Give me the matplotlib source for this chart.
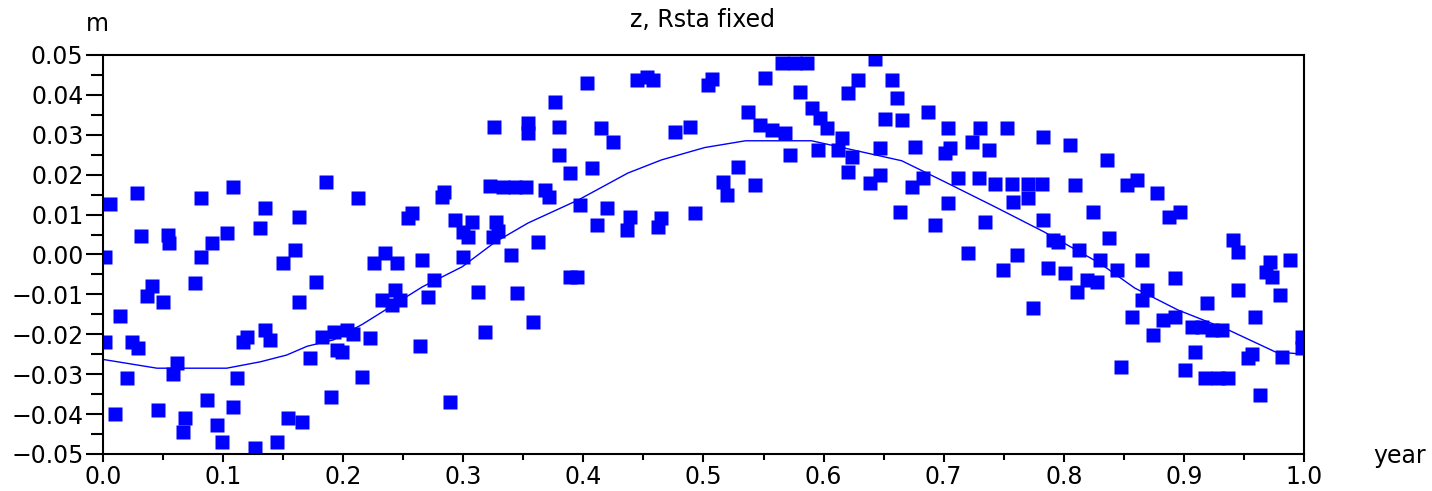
import numpy as np
import matplotlib
matplotlib.use("Agg")
import matplotlib.pyplot as plt
from matplotlib.ticker import MultipleLocator, FuncFormatter

# observed points (year fraction, metres)
obs_x = [0.006, 0.028, 0.032, 0.054, 0.055, 0.002, 0.014, 0.002, 0.024, 0.029,
         0.020, 0.010, 0.041, 0.037, 0.050, 0.046, 0.062, 0.058, 0.068, 0.067,
         0.077, 0.082, 0.082, 0.091, 0.103, 0.108, 0.135, 0.131, 0.087, 0.095,
         0.099, 0.112, 0.108, 0.120, 0.117, 0.135, 0.139, 0.127, 0.145, 0.150,
         0.160, 0.163, 0.163, 0.154, 0.166, 0.172, 0.186, 0.212, 0.254, 0.257,
         0.235, 0.226, 0.245, 0.266, 0.177, 0.232, 0.243, 0.247, 0.241, 0.182,
         0.192, 0.203, 0.208, 0.222, 0.195, 0.199, 0.264, 0.216, 0.190,
         0.326, 0.282, 0.284, 0.322, 0.333, 0.343, 0.352, 0.293, 0.307, 0.300,
         0.304, 0.327, 0.329, 0.325, 0.300, 0.276, 0.271, 0.312, 0.318, 0.289,
         0.403, 0.445, 0.453, 0.458, 0.504, 0.507, 0.376, 0.354, 0.354, 0.380,
         0.415, 0.425, 0.476, 0.489, 0.380, 0.389, 0.407, 0.368, 0.371, 0.397,
         0.420, 0.411, 0.439, 0.436, 0.465, 0.462, 0.493, 0.362, 0.340, 0.389,
         0.395, 0.345, 0.358,
         0.551, 0.565, 0.576, 0.586, 0.643, 0.580, 0.629, 0.620, 0.657, 0.661,
         0.651, 0.665, 0.537, 0.547, 0.557, 0.568, 0.590, 0.597, 0.603, 0.615,
         0.612, 0.624, 0.620, 0.572, 0.595, 0.647, 0.639, 0.647, 0.664, 0.529,
         0.516, 0.520, 0.543,
         0.687, 0.704, 0.730, 0.724, 0.753, 0.738, 0.705, 0.701, 0.676, 0.783,
         0.805, 0.683, 0.674, 0.712, 0.729, 0.743, 0.757, 0.770, 0.782, 0.758,
         0.770, 0.704, 0.783, 0.809, 0.824, 0.693, 0.734, 0.720, 0.761, 0.749,
         0.795, 0.791, 0.813, 0.830, 0.787, 0.801, 0.811, 0.819, 0.828, 0.774,
         0.836,
         0.853, 0.861, 0.878, 0.888, 0.897, 0.838, 0.844, 0.865, 0.893, 0.869,
         0.865, 0.857, 0.874, 0.883, 0.893, 0.907, 0.915, 0.923, 0.932, 0.919,
         0.848, 0.901, 0.909, 0.918, 0.928, 0.937, 0.941, 0.945, 0.945, 0.959,
         0.953, 0.957, 0.963, 0.972, 0.968, 0.973, 0.988, 0.980, 0.982, 0.998,
         0.998]
obs_y = [0.0127, 0.0154, 0.0046, 0.0050, 0.0030, -0.0007, -0.0155, -0.0220, -0.0220, -0.0235,
         -0.0310, -0.0400, -0.0080, -0.0105, -0.0120, -0.0390, -0.0272, -0.0300, -0.0410, -0.0445,
         -0.0071, 0.0142, -0.0006, 0.0029, 0.0054, 0.0169, 0.0117, 0.0066, -0.0365, -0.0427,
         -0.0470, -0.0310, -0.0382, -0.0207, -0.0220, -0.0190, -0.0214, -0.0485, -0.0470, -0.0021,
         0.0011, 0.0094, -0.0120, -0.0410, -0.0420, -0.0259, 0.0182, 0.0142, 0.0091, 0.0105,
         0.0004, -0.0021, -0.0021, -0.0014, -0.0069, -0.0114, -0.0089, -0.0114, -0.0127, -0.0207,
         -0.0194, -0.0189, -0.0200, -0.0209, -0.0239, -0.0244, -0.0230, -0.0307, -0.0357,
         0.0320, 0.0144, 0.0157, 0.0172, 0.0169, 0.0168, 0.0168, 0.0087, 0.0082, 0.0056,
         0.0044, 0.0082, 0.0060, 0.0044, -0.0006, -0.0064, -0.0107, -0.0094, -0.0194, -0.0370,
         0.0430, 0.0437, 0.0445, 0.0437, 0.0425, 0.0440, 0.0382, 0.0330, 0.0305, 0.0320,
         0.0317, 0.0282, 0.0307, 0.0320, 0.0250, 0.0204, 0.0217, 0.0162, 0.0145, 0.0124,
         0.0117, 0.0074, 0.0094, 0.0061, 0.0091, 0.0069, 0.0104, 0.0031, -0.0001, -0.0056,
         -0.0056, -0.0096, -0.0169,
         0.0442, 0.0480, 0.0480, 0.0480, 0.0490, 0.0408, 0.0437, 0.0405, 0.0437, 0.0392,
         0.0340, 0.0337, 0.0357, 0.0325, 0.0312, 0.0305, 0.0367, 0.0342, 0.0317, 0.0292,
         0.0262, 0.0244, 0.0207, 0.0250, 0.0262, 0.0267, 0.0180, 0.0200, 0.0107, 0.0220,
         0.0182, 0.0150, 0.0174,
         0.0357, 0.0317, 0.0317, 0.0282, 0.0317, 0.0262, 0.0267, 0.0255, 0.0270, 0.0295,
         0.0275, 0.0192, 0.0169, 0.0192, 0.0192, 0.0177, 0.0177, 0.0177, 0.0177, 0.0132,
         0.0142, 0.0129, 0.0086, 0.0174, 0.0107, 0.0074, 0.0081, 0.0004, -0.0001, -0.0039,
         0.0031, 0.0036, 0.0011, -0.0014, -0.0034, -0.0046, -0.0094, -0.0064, -0.0069, -0.0134,
         0.0237,
         0.0174, 0.0187, 0.0154, 0.0094, 0.0107, 0.0041, -0.0039, -0.0014, -0.0059, -0.0089,
         -0.0114, -0.0157, -0.0202, -0.0164, -0.0157, -0.0182, -0.0182, -0.0190, -0.0190, -0.0122,
         -0.0282, -0.0290, -0.0244, -0.0310, -0.0310, -0.0310, 0.0036, 0.0006, -0.0089, -0.0157,
         -0.0260, -0.0250, -0.0352, -0.0019, -0.0044, -0.0056, -0.0014, -0.0102, -0.0257, -0.0207,
         -0.0234]

# fitted curve
fit_x = [0.000, 0.045, 0.103, 0.131, 0.153, 0.170, 0.192, 0.216, 0.266, 0.299,
         0.326, 0.354, 0.396, 0.437, 0.465, 0.501, 0.535, 0.590, 0.632, 0.665,
         0.701, 0.743, 0.784, 0.830, 0.859, 0.895, 0.937, 0.976, 1.000]
fit_y = [-0.0263, -0.0285, -0.0285, -0.0269, -0.0252, -0.0230, -0.0214, -0.0175, -0.0081, -0.0031,
         0.0030, 0.0079, 0.0137, 0.0204, 0.0237, 0.0268, 0.0285, 0.0285, 0.0257, 0.0235,
         0.0182, 0.0119, 0.0056, -0.0022, -0.0084, -0.0139, -0.0189, -0.0244, -0.0250]


def yfmt(v, pos):
    v = round(v, 2) + 0.0
    s = "%.2f" % abs(v)
    return ("\u2212" + s) if v < 0 else s


plt.rcParams['font.family'] = 'DejaVu Sans'
plt.rcParams['font.size'] = 17

fig = plt.figure(figsize=(14.32, 4.91), dpi=100)
ax = fig.add_axes([0.0719, 0.0754, 0.8387, 0.8126])

ax.plot(fit_x, fit_y, "-", color=(0, 0, 1), lw=1.0)
ax.plot(obs_x, obs_y, "s", color=(0, 0, 1), ms=10.5, mec="none")

ax.set_xlim(0, 1)
ax.set_ylim(-0.05, 0.05)
ax.xaxis.set_major_locator(MultipleLocator(0.1))
ax.xaxis.set_minor_locator(MultipleLocator(0.05))
ax.yaxis.set_major_locator(MultipleLocator(0.01))
ax.yaxis.set_minor_locator(MultipleLocator(0.005))
ax.xaxis.set_major_formatter(FuncFormatter(lambda v, p: "%.1f" % v))
ax.yaxis.set_major_formatter(FuncFormatter(yfmt))
ax.tick_params(axis="y", which="major", direction="out", length=12, width=1.5, pad=2)
ax.tick_params(axis="y", which="minor", direction="out", length=9, width=1.5)
ax.tick_params(axis="x", which="major", direction="out", length=6, width=1.5, pad=2)
ax.tick_params(axis="x", which="minor", direction="out", length=4, width=1.5)
for s in ax.spines.values():
    s.set_linewidth(1.5)

fig.text(703 / 1432, 1 - 20 / 491, "z, Rsta fixed", ha="center", va="center")
fig.text(97 / 1432, 1 - 24 / 491, "m", ha="center", va="center")
fig.text(1400 / 1432, 1 - 456 / 491, "year", ha="center", va="center")

fig.savefig("out.png", dpi=100)
